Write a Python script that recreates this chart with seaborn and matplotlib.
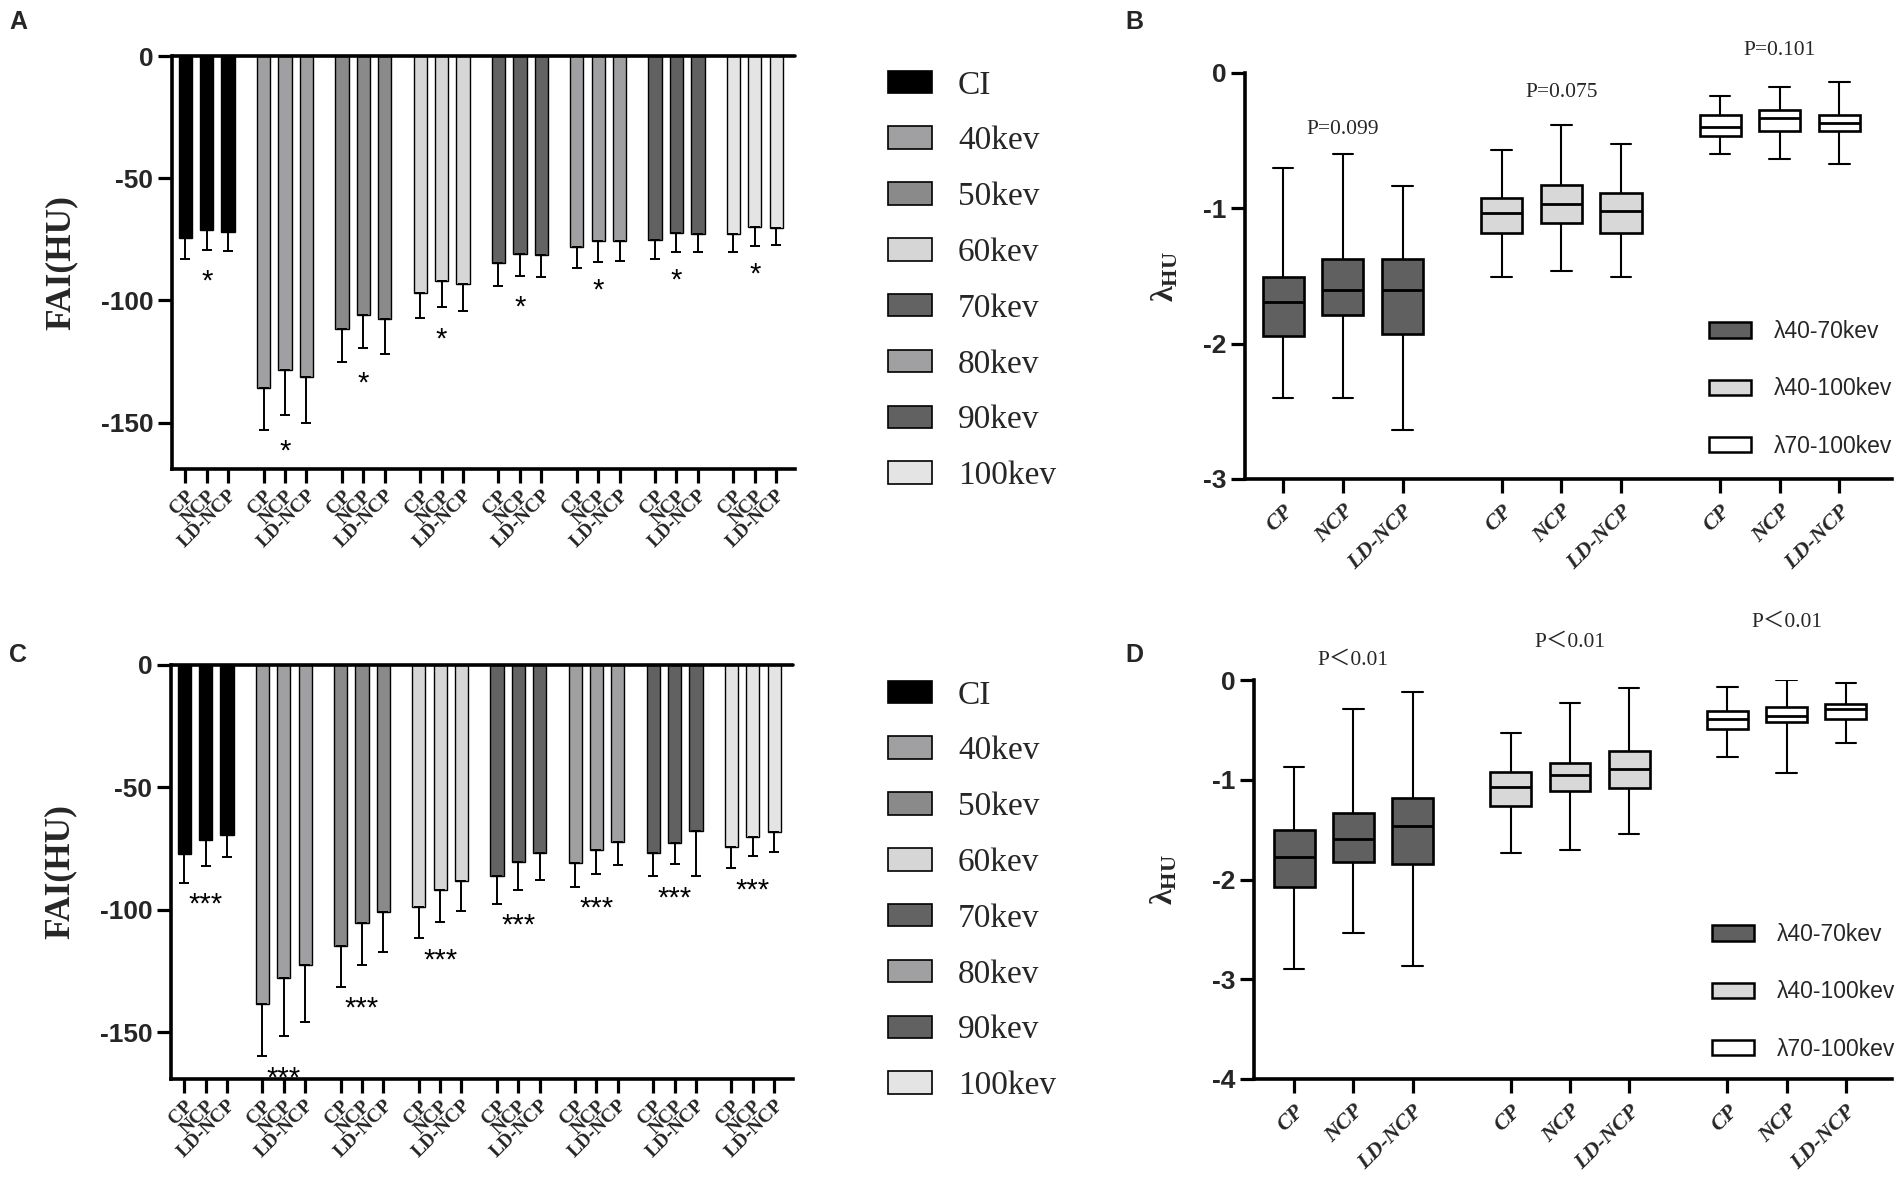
import numpy as np
import pandas as pd
import matplotlib
matplotlib.use("Agg")
import matplotlib.pyplot as plt
from matplotlib.patches import Patch
import seaborn as sns

# ---------------- data ----------------
energies = ["CI", "40kev", "50kev", "60kev", "70kev", "80kev", "90kev", "100kev"]
groups = ["CP", "NCP", "LD-NCP"]
energy_colors = ["#000000", "#a0a0a3", "#8a8a8a", "#d6d6d6",
                 "#636363", "#a0a0a3", "#616161", "#e4e4e4"]

# panel A: FAI mean / SD per energy level (CP, NCP, LD-NCP)
fai_a_mean = [[-74.4, -71.0, -72.2], [-135.9, -128.3, -131.3], [-111.7, -106.1, -107.8],
              [-96.9, -92.1, -93.4], [-84.5, -81.0, -81.3], [-78.3, -75.8, -75.8],
              [-75.1, -72.6, -72.8], [-72.8, -70.0, -70.4]]
fai_a_sd = [[8.8, 8.4, 7.6], [17.1, 18.6, 18.7], [13.5, 13.5, 14.0], [10.3, 10.5, 11.0],
            [9.5, 9.0, 9.3], [8.5, 8.4, 8.1], [7.9, 7.6, 7.4], [7.6, 7.6, 6.9]]

# panel C
fai_c_mean = [[-77.0, -71.5, -69.2], [-138.2, -127.8, -122.5], [-114.7, -105.3, -100.9],
              [-98.8, -92.0, -88.1], [-86.1, -80.5, -76.9], [-80.7, -75.4, -72.4],
              [-76.7, -72.7, -67.7], [-74.2, -70.2, -68.0]]
fai_c_sd = [[11.8, 10.5, 9.3], [21.6, 23.7, 23.3], [16.7, 17.2, 16.3], [12.7, 13.0, 12.2],
            [11.3, 11.3, 10.7], [9.9, 9.8, 9.3], [9.4, 8.6, 18.6], [8.7, 7.9, 8.3]]

# boxplots: min, Q1, median, Q3, max
slopes = ["λ40-70kev", "λ40-100kev", "λ70-100kev"]
slope_colors = ["#606060", "#d8d8d8", "#ffffff"]

lam_b = [[[-2.40, -1.94, -1.69, -1.505, -0.705],
          [-2.40, -1.79, -1.60, -1.377, -0.60],
          [-2.635, -1.93, -1.60, -1.377, -0.836]],
         [[-1.505, -1.182, -1.037, -0.923, -0.571],
          [-1.466, -1.107, -0.965, -0.825, -0.382],
          [-1.505, -1.179, -1.018, -0.887, -0.521]],
         [[-0.602, -0.463, -0.401, -0.307, -0.17],
          [-0.636, -0.432, -0.335, -0.273, -0.10],
          [-0.672, -0.432, -0.368, -0.307, -0.067]]]
p_b = ["P=0.099", "P=0.075", "P=0.101"]
p_b_y = [-0.418, -0.142, 0.167]

lam_d = [[[-2.90, -2.08, -1.77, -1.505, -0.87],
          [-2.537, -1.82, -1.595, -1.338, -0.295],
          [-2.87, -1.84, -1.467, -1.187, -0.125]],
         [[-1.73, -1.26, -1.072, -0.924, -0.533],
          [-1.70, -1.11, -0.95, -0.83, -0.227],
          [-1.546, -1.085, -0.896, -0.713, -0.083]],
         [[-0.771, -0.49, -0.393, -0.31, -0.072],
          [-0.93, -0.423, -0.363, -0.272, -0.004],
          [-0.631, -0.393, -0.291, -0.238, -0.03]]]
p_d = ["P＜0.01", "P＜0.01", "P＜0.01"]
p_d_y = [0.197, 0.378, 0.575]

bar_step = 3.66
box_step = 3.66

# ---------------- style ----------------
sns.set_theme(style="ticks")
plt.rcParams["font.family"] = ["Liberation Sans", "DejaVu Sans"]
plt.rcParams["axes.unicode_minus"] = False
plt.rcParams["mathtext.fontset"] = "custom"
plt.rcParams["mathtext.rm"] = "Liberation Serif:bold"
plt.rcParams["mathtext.it"] = "Liberation Serif:bold"

fig = plt.figure(figsize=(19.02, 11.80), dpi=100)
W, H = 1902.0, 1180.0


def style_axes(ax):
    sns.despine(ax=ax)
    for sp in ["left", "bottom"]:
        ax.spines[sp].set_linewidth(2.6)
        ax.spines[sp].set_color("black")
    ax.tick_params(axis="both", length=10, width=2.3, color="black", direction="out")
    for lab in ax.get_yticklabels():
        lab.set_fontweight("bold")
        lab.set_fontsize(19)


def draw_bars(ax, means, sds, star, legend_top):
    rows = []
    for gi, e in enumerate(energies):
        for i, g in enumerate(groups):
            rows.append({"x": gi * bar_step + i, "fai": means[gi][i],
                         "sd": sds[gi][i], "energy": e, "group": g})
    df = pd.DataFrame(rows)
    sns.barplot(data=df, x="x", y="fai", hue="energy", hue_order=energies,
                palette=dict(zip(energies, energy_colors)), native_scale=True,
                dodge=False, width=0.62, errorbar=None, edgecolor="black",
                linewidth=1.0, legend=False, ax=ax)
    ax.errorbar(df["x"], df["fai"], yerr=[df["sd"], np.zeros(len(df))], fmt="none",
                ecolor="black", elinewidth=1.4, capsize=3.5, capthick=1.4, zorder=1)
    ax.axhline(0, color="black", lw=2.6, clip_on=False, zorder=5)

    # significance marks under the middle bar of each energy level
    for gi in range(len(energies)):
        low = min(m - s for m, s in zip(means[gi], sds[gi]))
        ax.text(gi * bar_step + 1, low - 9.0, star, ha="center", va="center",
                fontsize=21, color="black")

    ax.set_xlim(-0.62, 28.5)
    ax.set_ylim(-169, 0)
    ax.set_yticks([0, -50, -100, -150])
    ax.set_yticklabels(["0", "-50", "-100", "-150"])
    ax.set_xticks(df["x"])
    ax.set_xticklabels(df["group"], rotation=45, ha="right", rotation_mode="anchor",
                       fontsize=14, fontweight="bold", family="Liberation Serif")
    ax.set_xlabel("")
    ax.set_ylabel("FAI(HU)", fontsize=25.5, fontweight="bold", family="Liberation Serif")
    ax.yaxis.set_label_coords(-0.152, 0.5)
    style_axes(ax)
    ax.tick_params(axis="x", pad=3)

    handles = [Patch(facecolor=c, edgecolor="black", linewidth=1.2) for c in energy_colors]
    ax.legend(handles, energies, loc="upper left", bbox_to_anchor=(888 / W, legend_top),
              bbox_transform=fig.transFigure, frameon=False,
              prop={"family": "Liberation Serif", "size": 24},
              handlelength=1.32, handleheight=0.66, labelspacing=0.76,
              handletextpad=0.78, borderpad=0, borderaxespad=0)


def draw_boxes(ax, stats, ptxt, py, ymin, xlim, label_x, legend_left, legend_top):
    rows = []
    ticks, ticklabels = [], []
    for si, s in enumerate(slopes):
        for i, g in enumerate(groups):
            x = si * box_step + i
            ticks.append(x)
            ticklabels.append(g)
            for v in stats[si][i]:
                rows.append({"x": x, "lam": v, "slope": s})
    df = pd.DataFrame(rows)
    sns.boxplot(data=df, x="x", y="lam", hue="slope", hue_order=slopes,
                palette=dict(zip(slopes, slope_colors)), native_scale=True,
                dodge=False, width=0.69, whis=(0, 100), linecolor="black",
                linewidth=1.9, legend=False, ax=ax,
                medianprops={"linewidth": 2.0},
                whiskerprops={"linewidth": 1.5}, capprops={"linewidth": 1.5})

    for si in range(len(slopes)):
        ax.text(si * box_step + 1, py[si], ptxt[si], ha="center", va="center",
                fontsize=15.5, family=["Liberation Serif", "Noto Sans CJK SC"],
                clip_on=False)

    ax.set_xlim(*xlim)
    ax.set_ylim(ymin, 0)
    yt = list(range(0, ymin - 1, -1))
    ax.set_yticks(yt)
    ax.set_yticklabels([str(v) for v in yt])
    ax.set_xticks(ticks)
    ax.set_xticklabels(ticklabels, rotation=45, ha="right", rotation_mode="anchor",
                       fontsize=16, fontweight="bold", fontstyle="italic",
                       family="Liberation Serif")
    ax.set_xlabel("")
    ax.set_ylabel("λ$_{\\mathrm{HU}}$", fontsize=23, fontweight="bold",
                  family="Liberation Serif")
    ax.yaxis.set_label_coords(label_x, 0.5)
    style_axes(ax)
    ax.tick_params(axis="x", pad=6)

    handles = [Patch(facecolor=c, edgecolor="black", linewidth=1.8) for c in slope_colors]
    ax.legend(handles, slopes, loc="upper left", bbox_to_anchor=(legend_left, legend_top),
              bbox_transform=fig.transFigure, frameon=False,
              prop={"family": "Liberation Sans", "size": 16.5},
              handlelength=1.85, handleheight=0.66, labelspacing=1.5,
              handletextpad=1.0, borderpad=0, borderaxespad=0)


ax_a = fig.add_axes([172 / W, 1 - 469 / H, (795 - 172) / W, (469 - 56) / H])
ax_c = fig.add_axes([171 / W, 1 - 1079 / H, (793 - 171) / W, (1079 - 665) / H])
ax_b = fig.add_axes([1245 / W, 1 - 479 / H, (1892 - 1245) / W, (479 - 73) / H])
ax_d = fig.add_axes([1254 / W, 1 - 1079 / H, (1892 - 1254) / W, (1079 - 680) / H])

draw_bars(ax_a, fai_a_mean, fai_a_sd, "*", 1 - 70 / H)
draw_bars(ax_c, fai_c_mean, fai_c_sd, "***", 1 - 680 / H)
draw_boxes(ax_b, lam_b, p_b, p_b_y, -3, (-0.64, 10.2), -0.10, 1709 / W, 1 - 320 / H)
draw_boxes(ax_d, lam_d, p_d, p_d_y, -4, (-0.68, 10.1), -0.116, 1712 / W, 1 - 923 / H)

for letter, (px, py) in {"A": (18, 22), "B": (1134, 22), "C": (18, 655), "D": (1134, 655)}.items():
    fig.text(px / W, 1 - py / H, letter, fontsize=18, fontweight="bold",
             ha="center", va="center")

fig.savefig("out.png", dpi=100, facecolor="white")
